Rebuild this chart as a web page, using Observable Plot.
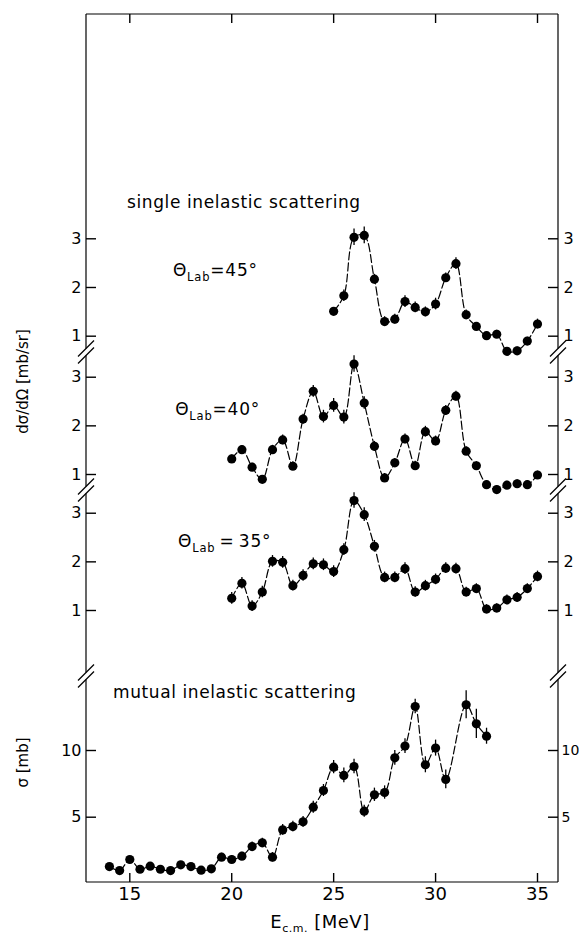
<!DOCTYPE html>
<html>
<head>
<meta charset="utf-8">
<script src="https://cdn.jsdelivr.net/npm/d3@7"></script>
<script src="https://cdn.jsdelivr.net/npm/@observablehq/plot@0.6"></script>
<style>
html,body{margin:0;padding:0;background:#fff;}
#chart{width:579px;height:934px;}
#chart svg{display:block;}
</style>
</head>
<body>
<div id="chart"></div>
<script>
const FONT = "DejaVu Sans";
const WIDTH = 579;
const HEIGHT = 934;
const MARGIN_LEFT = 86;
const MARGIN_RIGHT = 21;

// ---- axes ----
const xTicks = [15, 20, 25, 30, 35];
const xDomain = [12.876, 36.03];
const singleTicks = [1, 2, 3];
const mutualTicks = [5, 10];

// ---- data: single inelastic, theta_lab = 45 deg ----
const energy45 = [25, 25.5, 26, 26.5, 27, 27.5, 28, 28.5, 29, 29.5, 30, 30.5, 31, 31.5, 32, 32.5, 33, 33.5, 34, 34.5, 35];
const sigma45  = [1.51, 1.83, 3.03, 3.07, 2.17, 1.30, 1.35, 1.71, 1.59, 1.50, 1.66, 2.20, 2.49, 1.44, 1.20, 1.01, 1.04, 0.69, 0.70, 0.90, 1.25];
const err45    = [0.08, 0.12, 0.17, 0.17, 0.10, 0.10, 0.10, 0.12, 0.11, 0.10, 0.12, 0.10, 0.12, 0.10, 0.08, 0.08, 0.08, 0.08, 0.08, 0.08, 0.10];

// ---- data: single inelastic, theta_lab = 40 deg ----
const energy40 = [20, 20.5, 21, 21.5, 22, 22.5, 23, 23.5, 24, 24.5, 25, 25.5, 26, 26.5, 27, 27.5, 28, 28.5, 29, 29.5, 30, 30.5, 31, 31.5, 32, 32.5, 33, 33.5, 34, 34.5, 35];
const sigma40  = [1.32, 1.51, 1.15, 0.90, 1.51, 1.71, 1.17, 2.14, 2.71, 2.19, 2.42, 2.18, 3.27, 2.47, 1.58, 0.93, 1.24, 1.73, 1.18, 1.88, 1.69, 2.32, 2.61, 1.48, 1.18, 0.79, 0.69, 0.78, 0.81, 0.79, 0.99];
const err40    = [0.08, 0.08, 0.08, 0.08, 0.09, 0.10, 0.09, 0.10, 0.12, 0.13, 0.14, 0.14, 0.17, 0.13, 0.10, 0.09, 0.09, 0.10, 0.09, 0.11, 0.10, 0.10, 0.10, 0.09, 0.08, 0.08, 0.08, 0.08, 0.08, 0.08, 0.08];

// ---- data: single inelastic, theta_lab = 35 deg ----
const energy35 = [20, 20.5, 21, 21.5, 22, 22.5, 23, 23.5, 24, 24.5, 25, 25.5, 26, 26.5, 27, 27.5, 28, 28.5, 29, 29.5, 30, 30.5, 31, 31.5, 32, 32.5, 33, 33.5, 34, 34.5, 35];
const sigma35  = [1.25, 1.56, 1.09, 1.38, 2.01, 1.99, 1.51, 1.72, 1.96, 1.94, 1.80, 2.25, 3.26, 2.97, 2.32, 1.68, 1.68, 1.86, 1.38, 1.51, 1.64, 1.87, 1.86, 1.38, 1.45, 1.03, 1.05, 1.22, 1.27, 1.45, 1.70];
const err35    = [0.12, 0.12, 0.11, 0.12, 0.12, 0.12, 0.11, 0.12, 0.12, 0.12, 0.12, 0.12, 0.16, 0.14, 0.12, 0.11, 0.11, 0.12, 0.11, 0.11, 0.11, 0.11, 0.11, 0.10, 0.10, 0.09, 0.09, 0.10, 0.10, 0.10, 0.11];

// ---- data: mutual inelastic ----
const energyMutual = [14, 14.5, 15, 15.5, 16, 16.5, 17, 17.5, 18, 18.5, 19, 19.5, 20, 20.5, 21, 21.5, 22, 22.5, 23, 23.5, 24, 24.5, 25, 25.5, 26, 26.5, 27, 27.5, 28, 28.5, 29, 29.5, 30, 30.5, 31.5, 32, 32.5];
const sigmaMutual  = [1.30, 1.00, 1.83, 1.10, 1.33, 1.10, 1.00, 1.43, 1.30, 1.03, 1.13, 2.00, 1.83, 2.08, 2.80, 3.08, 2.00, 4.05, 4.30, 4.65, 5.75, 7.00, 8.75, 8.13, 8.80, 5.45, 6.68, 6.85, 9.45, 10.33, 13.30, 8.93, 10.18, 7.83, 13.43, 12.00, 11.07];
const errMutual    = [0.20, 0.20, 0.20, 0.20, 0.20, 0.20, 0.20, 0.20, 0.20, 0.20, 0.20, 0.30, 0.30, 0.30, 0.35, 0.35, 0.35, 0.40, 0.40, 0.40, 0.45, 0.45, 0.50, 0.55, 0.55, 0.45, 0.50, 0.50, 0.55, 0.55, 0.55, 0.60, 0.60, 0.70, 1.05, 1.10, 0.60];

// ---- annotations ----
const titles = [
  {panel: "45", text: "single inelastic scattering", E: 14.89, v: 3.62},
  {panel: "mutual", text: "mutual inelastic scattering", E: 14.2, v: 13.9}
];
const thetaLabels = [
  {panel: "45", angle: "45", sep: "=", E: 17.14, v: 2.226},
  {panel: "40", angle: "40", sep: "=", E: 17.25, v: 2.213},
  {panel: "35", angle: "35", sep: "\u2009=\u2009", E: 17.39, v: 2.295}
];

// ---- panels (stacked, each with its own y scale) ----
const panelSpecs = [
  {key: "45", top: 0, height: 352, marginTop: 14, marginBottom: 0, yDomain: [0.665, 7.606], yTicks: singleTicks,
   E: energy45, V: sigma45, Err: err45, topAxis: true, breakBottom: true, rightFont: 16, rightPad: 5},
  {key: "40", top: 352, height: 138, marginTop: 0, marginBottom: 0, yDomain: [0.671, 3.508], yTicks: singleTicks,
   E: energy40, V: sigma40, Err: err40, breakTop: true, breakBottom: true, rightFont: 16, rightPad: 5,
   yLabel: {text: "dσ/dΩ [mb/sr]", dy: -40}},
  {key: "35", top: 490, height: 186, marginTop: 0, marginBottom: 0, yDomain: [-0.357, 3.467], yTicks: singleTicks,
   E: energy35, V: sigma35, Err: err35, breakTop: true, breakBottom: true, rightFont: 16, rightPad: 5},
  {key: "mutual", top: 676, height: 258, marginTop: 0, marginBottom: 52, yDomain: [0.105, 15.547], yTicks: mutualTicks,
   E: energyMutual, V: sigmaMutual, Err: errMutual, breakTop: true, bottomAxis: true, rightFont: 14, rightPad: 3,
   yLabel: {text: "σ [mb]", dy: -17}}
];

function rows(E, V, Err) { return E.map((e, i) => ({E: e, v: V[i], err: Err[i]})); }

const BREAK_HALF = 3.5;
const Y_TICK_LEN = 10;  // px
const X_TICK_LEN = 9;   // px
const TICK_W = 1.4;

// frame (left/right sides, optional top/bottom) and axis-break marks
function frameMark(spec) {
  return (index, scales, values, dims) => {
    const {width, height, marginLeft, marginRight, marginTop, marginBottom} = dims;
    const x0 = marginLeft, x1 = width - marginRight;
    const y0 = marginTop, y1 = height - marginBottom;
    const g = d3.create("svg:g").attr("stroke", "black").attr("stroke-width", 1.2).attr("fill", "none");
    const ya = spec.breakTop ? y0 + BREAK_HALF : y0;
    const yb = spec.breakBottom ? y1 - BREAK_HALF : y1;
    for (const x of [x0, x1]) g.append("line").attr("x1", x).attr("x2", x).attr("y1", ya).attr("y2", yb);
    if (spec.topAxis) g.append("line").attr("x1", x0).attr("x2", x1).attr("y1", y0).attr("y2", y0);
    if (spec.bottomAxis) g.append("line").attr("x1", x0).attr("x2", x1).attr("y1", y1).attr("y2", y1);
    if (spec.breakBottom) {
      for (const x of [x0, x1]) for (const s of [-BREAK_HALF, BREAK_HALF]) {
        g.append("line").attr("x1", x - 8).attr("y1", y1 + s + 8).attr("x2", x + 8).attr("y2", y1 + s - 8);
      }
    }
    return g.node();
  };
}

function richText(parts, place, attrs = {}) {
  return (index, scales, values, dims) => {
    const [x, y] = place(scales, dims);
    const t = d3.create("svg:text").attr("x", x).attr("y", y)
      .attr("fill", "black").attr("stroke", "none").attr("font-family", FONT).attr("font-size", 17).attr("text-anchor", "start");
    for (const [k, val] of Object.entries(attrs)) t.attr(k, val);
    for (const p of parts) {
      const s = t.append("tspan").text(p.text);
      if (p.size) s.attr("font-size", p.size);
      if (p.dy) s.attr("dy", p.dy);
    }
    return t.node();
  };
}

const master = d3.create("svg")
  .attr("width", WIDTH).attr("height", HEIGHT)
  .attr("viewBox", `0 0 ${WIDTH} ${HEIGHT}`)
  .attr("font-family", FONT).attr("font-size", 16)
  .style("background", "white").style("color", "black");

const intFormat = d => String(d);
const plotW = WIDTH - MARGIN_LEFT - MARGIN_RIGHT;
const ePerPx = (xDomain[1] - xDomain[0]) / plotW;

for (const spec of panelSpecs) {
  const data = rows(spec.E, spec.V, spec.Err);
  const plotH = spec.height - spec.marginTop - spec.marginBottom;
  const vPerPx = (spec.yDomain[1] - spec.yDomain[0]) / plotH;
  const marks = [
    frameMark(spec),
    // inward y ticks, left and right
    Plot.ruleY(spec.yTicks, {y: d => d, x1: xDomain[0], x2: xDomain[0] + Y_TICK_LEN * ePerPx, stroke: "black", strokeWidth: TICK_W}),
    Plot.ruleY(spec.yTicks, {y: d => d, x1: xDomain[1] - Y_TICK_LEN * ePerPx, x2: xDomain[1], stroke: "black", strokeWidth: TICK_W}),
    Plot.axisY({anchor: "left", ticks: spec.yTicks, tickSize: 0, tickPadding: 5, tickFormat: intFormat, fontSize: 16, fontFamily: FONT, label: null}),
    Plot.axisY({anchor: "right", ticks: spec.yTicks, tickSize: 0, tickPadding: spec.rightPad, tickFormat: intFormat, fontSize: spec.rightFont, fontFamily: FONT, label: null}),
    Plot.ruleX(data, {x: "E", y1: d => d.v - d.err, y2: d => d.v + d.err, stroke: "black", strokeWidth: 1.3}),
    Plot.line(data, {x: "E", y: "v", curve: "catmull-rom", stroke: "black", strokeWidth: 1.2, strokeDasharray: "8,3"}),
    Plot.dot(data, {x: "E", y: "v", r: 4.6, fill: "black"})
  ];
  if (spec.topAxis) {
    marks.push(Plot.ruleX(xTicks, {x: d => d, y1: spec.yDomain[1] - X_TICK_LEN * vPerPx, y2: spec.yDomain[1], stroke: "black", strokeWidth: TICK_W}));
  }
  if (spec.bottomAxis) {
    marks.push(Plot.ruleX(xTicks, {x: d => d, y1: spec.yDomain[0], y2: spec.yDomain[0] + X_TICK_LEN * vPerPx, stroke: "black", strokeWidth: TICK_W}));
    marks.push(Plot.axisX({anchor: "bottom", ticks: xTicks, tickSize: 0, tickPadding: 5, tickFormat: intFormat, fontSize: 18, fontFamily: FONT, label: null}));
    marks.push(richText(
      [{text: "E"}, {text: "c.m.", size: 11, dy: 4}, {text: " [MeV]", dy: -4}],
      (s, d) => [(d.marginLeft + d.width - d.marginRight) / 2 - 2, d.height - 6],
      {"text-anchor": "middle", "font-size": 18, "letter-spacing": 0.5}
    ));
  }
  if (spec.yLabel) {
    marks.push(Plot.text([spec.yLabel.text], {frameAnchor: "left", rotate: -90, dx: -63, dy: spec.yLabel.dy, fontSize: 15, fontFamily: FONT, fill: "black", textAnchor: "middle", lineAnchor: "middle"}));
  }
  for (const t of titles.filter(d => d.panel === spec.key)) {
    marks.push(richText([{text: t.text}], s => [s.x(t.E), s.y(t.v)], {"letter-spacing": 0.6}));
  }
  for (const t of thetaLabels.filter(d => d.panel === spec.key)) {
    marks.push(richText(
      [{text: "Θ"}, {text: "Lab", size: 11.5, dy: 5}, {text: t.sep + t.angle + "°", dy: -5}],
      s => [s.x(t.E), s.y(t.v)],
      {"letter-spacing": 0.8}
    ));
  }
  const xOpts = {domain: xDomain};
  if (!spec.bottomAxis) xOpts.axis = null;
  const svg = Plot.plot({
    width: WIDTH, height: spec.height,
    marginLeft: MARGIN_LEFT, marginRight: MARGIN_RIGHT, marginTop: spec.marginTop, marginBottom: spec.marginBottom,
    x: xOpts,
    y: {domain: spec.yDomain},
    marks
  });
  const g = master.append("g").attr("transform", `translate(0,${spec.top})`);
  const cls = svg.getAttribute("class");
  if (cls) g.attr("class", cls);
  g.attr("fill", "currentColor").attr("text-anchor", "middle");
  while (svg.firstChild) g.node().appendChild(svg.firstChild);
}

document.getElementById("chart").appendChild(master.node());
</script>
</body>
</html>
